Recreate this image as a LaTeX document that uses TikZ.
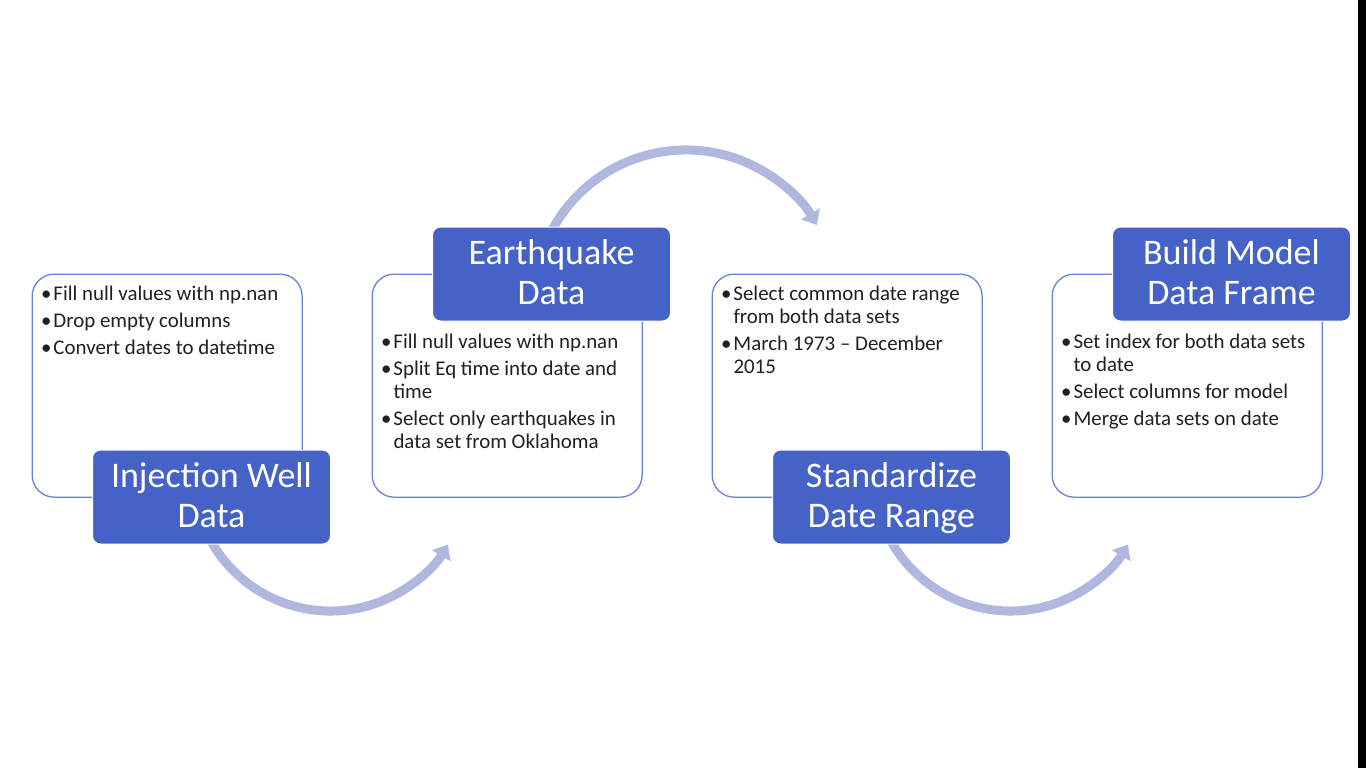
\documentclass[tikz,border=0pt]{standalone}
\usepackage{fontspec}
\setmainfont{Carlito}
\usetikzlibrary{arrows.meta}
\definecolor{tagblue}{RGB}{69,98,199}
\definecolor{rimblue}{RGB}{103,130,214}
\definecolor{arcblue}{RGB}{176,184,224}
\definecolor{inkgray}{RGB}{32,32,32}
\begin{document}
\begin{tikzpicture}[x=1pt,y=-1pt,
  panel/.style={draw=rimblue,line width=1.3pt,fill=white,rounded corners=22pt,
    minimum width=270pt,minimum height=223pt,anchor=north west,inner sep=0pt},
  tag/.style={draw=white,line width=1pt,fill=tagblue,rounded corners=8pt,
    minimum width=238pt,minimum height=94pt,anchor=north west,inner sep=0pt,
    text=white,font=\fontsize{36}{40}\selectfont,text height=30pt,text depth=49pt},
  notes/.style={text=inkgray,font=\fontsize{20.9}{23}\selectfont,inner sep=0pt,anchor=base west},
  flow/.style={draw=arcblue,line width=9pt,-{Triangle[width=21pt,length=13pt]}}
]
% page and background
\useasboundingbox (0,0) rectangle (1366,768);
\fill[white] (0,0) rectangle (1366,768);
\fill[black] (1358,0) rectangle (1366,768);

% curved arrows linking the steps (drawn first, their tails tuck under the tags)
\coordinate (s1) at (206.3,531.9);
\coordinate (s2) at (548.3,237.7);
\coordinate (s3) at (886.3,531.9);
\draw[flow] (s1) arc[start angle=205,end angle=329,radius=137pt];
\draw[flow] (s2) arc[start angle=155,end angle=30.4,radius=151.9pt];
\draw[flow] (s3) arc[start angle=205,end angle=329,radius=137pt];

% step panels
\node[panel] (p1) at (31.5,273.5) {};
\node[panel] (p2) at (371.5,273.5) {};
\node[panel] (p3) at (711.5,273.5) {};
\node[panel] (p4) at (1051.5,273.5) {};

% panel notes
\node[notes] (n1) at (41,300.5) {\begin{tabular}[t]{@{}p{12.3pt}@{}l@{}}
\textbullet & Fill null values with np.nan\\[4pt]
\textbullet & Drop empty columns\\[4pt]
\textbullet & Convert dates to datetime
\end{tabular}};
\node[notes] (n2) at (381,348) {\begin{tabular}[t]{@{}p{12.3pt}@{}l@{}}
\textbullet & Fill null values with np.nan\\[4pt]
\textbullet & Split Eq time into date and\\
 & time\\[4pt]
\textbullet & Select only earthquakes in\\
 & data set from Oklahoma
\end{tabular}};
\node[notes] (n3) at (721,300.5) {\begin{tabular}[t]{@{}p{12.3pt}@{}l@{}}
\textbullet & Select common date range\\
 & from both data sets\\[4pt]
\textbullet & March 1973 – December\\
 & 2015
\end{tabular}};
\node[notes] (n4) at (1061,348) {\begin{tabular}[t]{@{}p{12.3pt}@{}l@{}}
\textbullet & Set index for both data sets\\
 & to date\\[4pt]
\textbullet & Select columns for model\\[4pt]
\textbullet & Merge data sets on date
\end{tabular}};

% step titles
\node[tag] (t1) at (92,449.5) {\begin{tabular}[t]{@{}c@{}}Injection Well\\Data\end{tabular}};
\node[tag] (t2) at (432,226.5) {\begin{tabular}[t]{@{}c@{}}Earthquake\\Data\end{tabular}};
\node[tag] (t3) at (772,449.5) {\begin{tabular}[t]{@{}c@{}}Standardize\\Date Range\end{tabular}};
\node[tag] (t4) at (1112,226.5) {\begin{tabular}[t]{@{}c@{}}Build Model\\Data Frame\end{tabular}};
\end{tikzpicture}
\end{document}
